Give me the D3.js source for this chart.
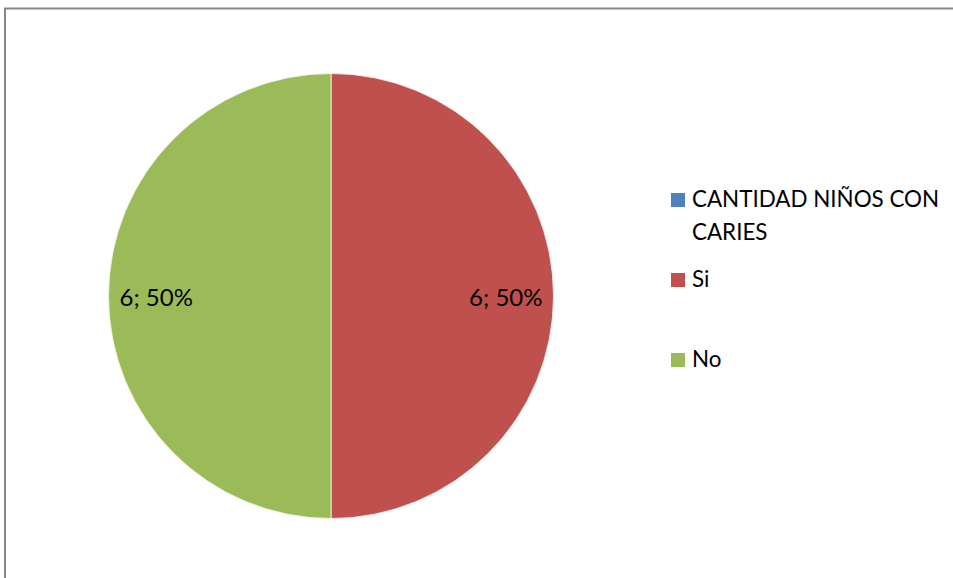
<!DOCTYPE html>
<html><head><meta charset="utf-8">
<script src="https://cdn.jsdelivr.net/npm/d3@7"></script>
<style>body{margin:0;background:#fff}svg{display:block}</style>
</head><body>
<script>
const categories = ["CANTIDAD NIÑOS CON CARIES", "Si", "No"];
const values = [0, 6, 6];
const colors = ["#4F81BD", "#C0504D", "#9BBB59"];
const legendLines = [["CANTIDAD NIÑOS CON", "CARIES"], ["Si"], ["No"]];

const W = 953, H = 578;
const svg = d3.select("body").append("svg").attr("width", W).attr("height", H);
svg.append("rect").attr("x", 5).attr("y", 8.5).attr("width", 1000).attr("height", 1000)
  .attr("fill", "#fff").attr("stroke", "#878787").attr("stroke-width", 2);

const cx = 331, cy = 296, r = 222.5;
const total = d3.sum(values);
const pie = d3.pie().sort(null).value(d => d)(values);
const arc = d3.arc().innerRadius(0).outerRadius(r);
const g = svg.append("g").attr("transform", `translate(${cx},${cy})`);
g.selectAll("path").data(pie.filter(d => d.value > 0)).join("path")
  .attr("d", arc).attr("fill", d => colors[d.index])
  .attr("stroke", "#fff").attr("stroke-width", 0.75);

const font = "Lato, 'Open Sans', sans-serif";
g.selectAll("text.lbl").data(pie.filter(d => d.value > 0)).join("text")
  .attr("class", "lbl")
  .each(function(d) {
    const a = (d.startAngle + d.endAngle) / 2;
    const x = Math.sin(a) * (r - 11), y = -Math.cos(a) * (r - 11);
    d3.select(this).attr("x", x).attr("y", y + 10)
      .attr("text-anchor", Math.sin(a) > 0 ? "end" : "start");
  })
  .attr("font-family", font).attr("font-size", 24).attr("fill", "#000")
  .text(d => `${d.value}; ${Math.round(d.value / total * 100)}%`);

const ly = [207, 287, 367];
const leg = svg.append("g");
categories.forEach((c, i) => {
  leg.append("rect").attr("x", 671).attr("y", ly[i] - 14).attr("width", 14).attr("height", 14)
    .attr("fill", colors[i]);
  legendLines[i].forEach((t, j) => {
    leg.append("text").attr("x", 692).attr("y", ly[i] + j * 33)
      .attr("font-family", font).attr("font-size", 22.4).attr("fill", "#000").text(t);
  });
});
</script>
</body></html>
